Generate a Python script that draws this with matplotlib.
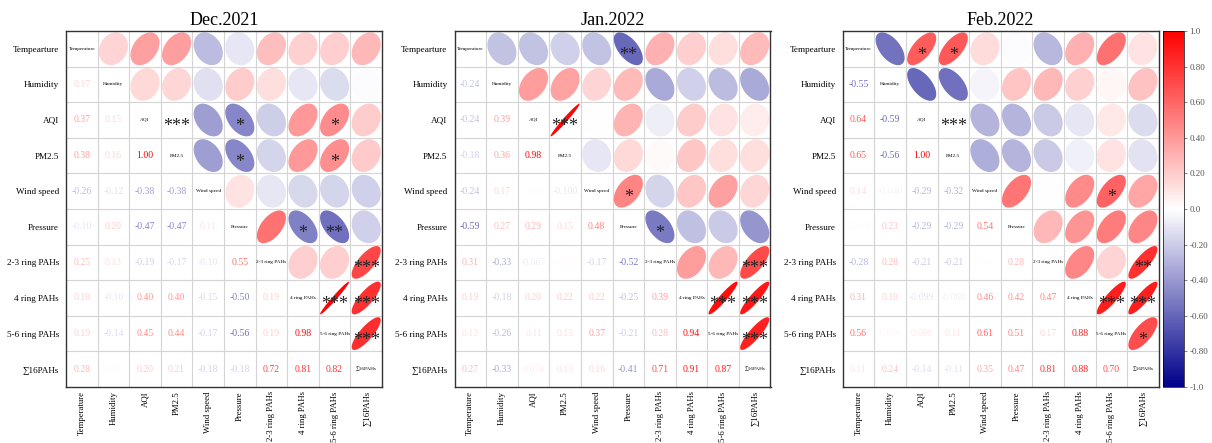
import numpy as np
import matplotlib
matplotlib.use('Agg')
import matplotlib.pyplot as plt
from matplotlib.colors import LinearSegmentedColormap, Normalize
from matplotlib.patches import Polygon

plt.rcParams['font.family'] = ['Liberation Serif', 'DejaVu Serif']

row_labels = ['Tempearture', 'Humidity', 'AQI', 'PM2.5', 'Wind speed', 'Pressure',
              '2-3 ring PAHs', '4 ring PAHs', '5-6 ring PAHs', '∑16PAHs']
col_labels = ['Temperature', 'Humidity', 'AQI', 'PM2.5', 'Wind speed', 'Pressure',
              '2-3 ring PAHs', '4 ring PAHs', '5-6 ring PAHs', '∑16PAHs']
diag_labels = ['Temperature', 'Humidity', 'AQI', 'PM2.5', 'Wind speed', 'Pressure',
               '2-3 ring PAHs', '4 ring PAHs', '5-6 ring PAHs', '∑16PAHs']
titles = ['Dec.2021', 'Jan.2022', 'Feb.2022']

# lower triangle, row by row (row i has i values)
dec = [
    [],
    [0.17],
    [0.37, 0.15],
    [0.38, 0.16, 1.00],
    [-0.26, -0.12, -0.38, -0.38],
    [-0.10, 0.20, -0.47, -0.47, 0.11],
    [0.25, 0.13, -0.19, -0.17, -0.10, 0.55],
    [0.18, -0.10, 0.40, 0.40, -0.15, -0.50, 0.19],
    [0.19, -0.14, 0.45, 0.44, -0.17, -0.56, 0.19, 0.98],
    [0.28, -0.011, 0.20, 0.21, -0.18, -0.18, 0.72, 0.81, 0.82],
]
jan = [
    [],
    [-0.24],
    [-0.24, 0.39],
    [-0.18, 0.36, 0.98],
    [-0.24, 0.17, 0.0, -0.0999],
    [-0.59, 0.27, 0.29, 0.15, 0.48],
    [0.31, -0.33, -0.067, 0.02, -0.17, -0.52],
    [0.19, -0.18, 0.20, 0.22, 0.22, -0.25, 0.39],
    [0.13, -0.26, 0.11, 0.13, 0.37, -0.21, 0.28, 0.94],
    [0.27, -0.33, 0.074, 0.13, 0.16, -0.41, 0.71, 0.91, 0.87],
]
feb = [
    [],
    [-0.55],
    [0.64, -0.59],
    [0.65, -0.56, 1.00],
    [0.14, -0.040, -0.29, -0.32],
    [-0.010, 0.23, -0.29, -0.29, 0.54],
    [-0.28, 0.28, -0.21, -0.21, 0.0, 0.28],
    [0.31, 0.18, -0.099, -0.060, 0.46, 0.42, 0.47],
    [0.56, 0.036, 0.086, 0.11, 0.61, 0.51, 0.17, 0.88],
    [0.11, 0.24, -0.14, -0.11, 0.35, 0.47, 0.81, 0.88, 0.70],
]

# significance marks in the upper triangle: (row, col, mark)
dec_sig = [(2, 3, '***'), (2, 5, '*'), (2, 8, '*'), (3, 5, '*'), (3, 8, '*'),
           (5, 7, '*'), (5, 8, '**'), (6, 9, '***'), (7, 8, '***'), (7, 9, '***'), (8, 9, '***')]
jan_sig = [(0, 5, '**'), (2, 3, '***'), (4, 5, '*'), (5, 6, '*'),
           (6, 9, '***'), (7, 8, '***'), (7, 9, '***'), (8, 9, '***')]
feb_sig = [(0, 2, '*'), (0, 3, '*'), (2, 3, '***'), (4, 8, '*'),
           (6, 9, '**'), (7, 8, '***'), (7, 9, '***'), (8, 9, '*')]

cmap = LinearSegmentedColormap.from_list('bwr2', ['#00008B', '#FFFFFF', '#FF0000'])
norm = Normalize(-1, 1)


def full_matrix(low):
    n = len(low)
    m = np.eye(n)
    for i, row in enumerate(low):
        for j, v in enumerate(row):
            m[i, j] = v
            m[j, i] = v
    return m


def fmt(v):
    if abs(v) >= 0.1:
        return '%.2f' % v
    return '%.3f' % v


def ellipse_pts(r, scale=0.92):
    d = np.arccos(np.clip(r, -1, 1))
    k = np.linspace(0, 2 * np.pi, 100)
    x = np.cos(k + d / 2) / 2 * scale
    y = np.cos(k - d / 2) / 2 * scale
    return x, -y


def draw_panel(ax, low, sig, title):
    m = full_matrix(low)
    n = m.shape[0]
    ax.set_xlim(-0.5, n - 0.5)
    ax.set_ylim(n - 0.5, -0.5)
    for k in range(1, n):
        ax.axhline(k - 0.5, color='#d4d4d4', lw=0.8, zorder=0)
        ax.axvline(k - 0.5, color='#d4d4d4', lw=0.8, zorder=0)
    for i in range(n):
        for j in range(n):
            v = m[i, j]
            c = cmap(norm(v))
            if i > j:
                ax.text(j, i, fmt(v), color=c, ha='center', va='center', fontsize=7)
            elif i == j:
                ax.text(j, i, diag_labels[i], ha='center', va='center', fontsize=3.8, color='black')
            else:
                ex, ey = ellipse_pts(v)
                ax.add_patch(Polygon(np.column_stack([ex + j, ey + i]), closed=True,
                                     facecolor=c, edgecolor='none', zorder=1))
    for (i, j, s) in sig:
        ax.text(j, i + 0.18, s, ha='center', va='center', fontsize=13, color='#222222', zorder=3)
    ax.set_xticks(range(n))
    ax.set_yticks(range(n))
    ax.set_xticklabels(col_labels, rotation=90, fontsize=6.3)
    ax.set_yticklabels(row_labels, fontsize=6.6)
    ax.tick_params(axis='x', length=0, pad=3)
    ax.tick_params(axis='y', length=0, pad=5)
    for sp in ax.spines.values():
        sp.set_linewidth(1.0)
        sp.set_color('#333333')
    ax.set_title(title, fontsize=13, pad=4)


fig = plt.figure(figsize=(12.12, 4.43), dpi=100)
lefts = [66 / 1212, 454.5 / 1212, 842.7 / 1212]
bottom = 1 - 387 / 443
height = 356 / 443
width = 316 / 1212
for left, low, sig, title in zip(lefts, [dec, jan, feb], [dec_sig, jan_sig, feb_sig], titles):
    ax = fig.add_axes([left, bottom, width, height])
    draw_panel(ax, low, sig, title)

cax = fig.add_axes([1163 / 1212, bottom, 21 / 1212, height])
sm = plt.cm.ScalarMappable(cmap=cmap, norm=norm)
cb = fig.colorbar(sm, cax=cax)
ticks = [1.0, 0.8, 0.6, 0.4, 0.2, 0.0, -0.2, -0.4, -0.6, -0.8, -1.0]
cb.set_ticks(ticks)
cb.set_ticklabels(['1.0', '0.80', '0.60', '0.40', '0.20', '0.0',
                   '-0.20', '-0.40', '-0.60', '-0.80', '-1.0'])
cax.tick_params(labelsize=6.5, length=2, width=0.5, colors='#555555', pad=2)
cb.outline.set_linewidth(0.5)

fig.savefig('out.png', dpi=100)
